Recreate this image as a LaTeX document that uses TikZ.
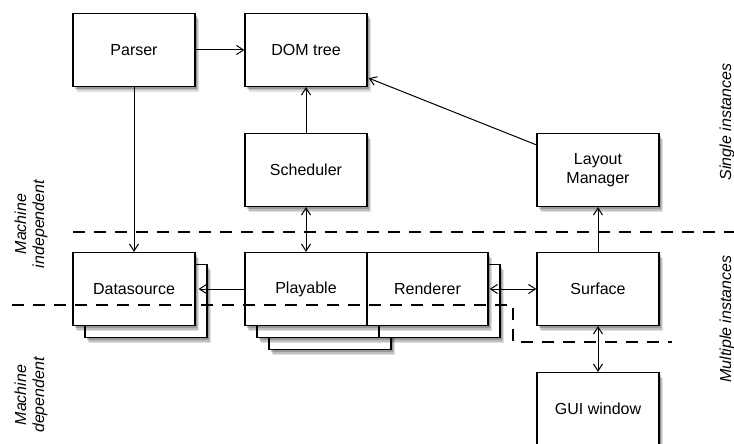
\documentclass[tikz,border=0pt]{standalone}
\usepackage{fontspec}
\setmainfont{Liberation Sans}
\usetikzlibrary{arrows.meta,shadows,calc}
\begin{document}
\begin{tikzpicture}[x=1pt,y=-1pt,
  softshadow/.style={
    drop shadow={shadow xshift=4pt,shadow yshift=-5.5pt,opacity=0.12,fill=black},
    drop shadow={shadow xshift=3pt,shadow yshift=-4pt,opacity=0.15,fill=black},
    drop shadow={shadow xshift=1.5pt,shadow yshift=-2.5pt,opacity=0.2,fill=black}},
  box/.style={draw,line width=1.2pt,fill=white,minimum width=122pt,minimum height=73pt,
    inner sep=0pt,align=center,font=\fontsize{16}{18.5}\selectfont,softshadow},
  halfbox/.style={box,minimum width=121pt},
  conn/.style={line width=1pt,>={Straight Barb[length=7pt,width=9pt]}},
  sepline/.style={line width=2.6pt,dash pattern=on 12pt off 9pt},
  side/.style={rotate=90,align=center,font=\fontsize{16}{18}\selectfont\itshape}]
\useasboundingbox (0,0) rectangle (734,444);

% Datasource stack
\node[box] (dsb) at (146,301) {};
\node[box] (ds) at (134,289) {Datasource};

% Playable / Renderer stack
\node[box] (plc) at (330,313) {};
\node[box] (plb) at (318,301) {};
\node[halfbox] (rnb) at (439.5,301) {};
\node[box] (play) at (306,289) {Playable};
\node[halfbox] (ren) at (427.5,289) {Renderer};

% other boxes
\node[box] (par) at (134,50) {Parser};
\node[box] (dom) at (306,50) {DOM tree};
\node[box] (sch) at (306,170) {Scheduler};
\node[box] (lay) at (598,170) {Layout\\Manager};
\node[box] (surf) at (598,289) {Surface};
\node[box] (gui) at (598,409) {GUI window};

% connectors
\draw[conn,->] (par.east) -- (dom.west);
\draw[conn,->] (sch.north) -- (dom.south);
\draw[conn,->] (par.south) -- (ds.north);
\draw[conn,<->] (sch.south) -- (play.north);
\draw[conn,->] ($(lay.north west)+(0,12)$) -- ($(dom.south east)+(1,-9)$);
\draw[conn,->] (surf.north) -- (lay.south);
\draw[conn,->] (play.west) -- ($(ds.east)+(3,0)$);
\draw[conn,<->] ($(ren.east)+(1,0)$) -- (surf.west);
\draw[conn,<->] (surf.south) -- (gui.north);

% separators
\coordinate (s1a) at (73,232);
\coordinate (s1b) at (734,232);
\draw[sepline] (s1a) -- (s1b);
\coordinate (s2a) at (12,305);
\coordinate (s2b) at (513,305);
\coordinate (s2c) at (513,342);
\coordinate (s2d) at (672,342);
\draw[sepline] (s2a) -- (s2b) -- (s2c) -- (s2d);

% side labels
\node[side] (mi) at (31,224) {Machine\\independent};
\node[side] (md) at (31,395) {Machine\\dependent};
\node[side] (si) at (727,122) {Single instances};
\node[side] (mu) at (727,319) {Multiple instances};
\end{tikzpicture}
\end{document}
